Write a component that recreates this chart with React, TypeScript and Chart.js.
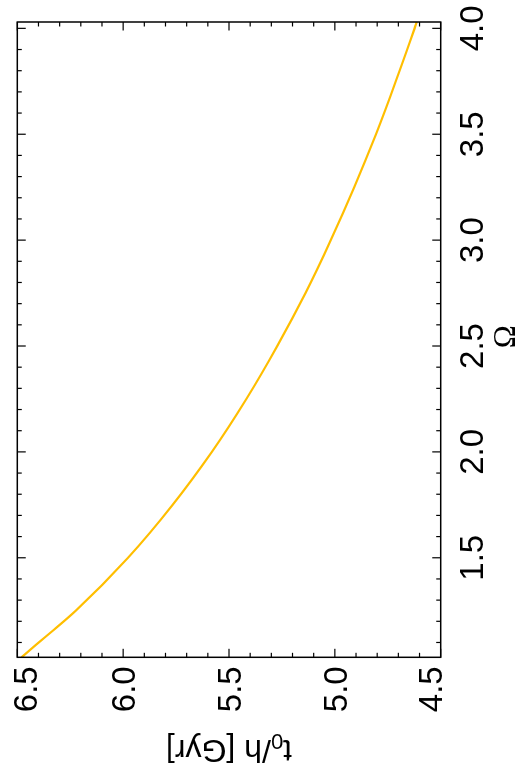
import React, { useEffect, useRef } from "react";
import { Chart, registerables } from "chart.js";

Chart.register(...registerables);

// Data (Omega vs. t0/h in Gyr)
const omega = [1.03, 1.1, 1.15, 1.25, 1.5, 1.75, 2.0, 2.25, 2.5, 2.75, 3.0, 3.25, 3.5, 3.75, 4.0, 4.03];
const ageGyr = [6.48, 6.399, 6.339, 6.224, 5.977, 5.766, 5.581, 5.418, 5.272, 5.139, 5.019, 4.908, 4.806, 4.712, 4.623, 4.613];

// Axis ranges and ticks
const omegaMin = 1.03;
const omegaMax = 4.03;
const ageMin = 4.5;
const ageMax = 6.5;
const omegaMajorTicks = [1.5, 2.0, 2.5, 3.0, 3.5, 4.0];
const omegaTickLabels = ["1.5", "2.0", "2.5", "3.0", "3.5", "4.0"];
const ageMajorTicks = [4.5, 5.0, 5.5, 6.0, 6.5];
const ageTickLabels = ["4.5", "5.0", "5.5", "6.0", "6.5"];
const minorStep = 0.1;

const xTitle = "Ω";
const yTitleMain = "t";
const yTitleSub = "0";
const yTitleRest = "/h [Gyr]";

const lineColor = "#ffbe00";

function minorValues(min: number, max: number): number[] {
  const out: number[] = [];
  const start = Math.ceil(min / minorStep - 1e-6);
  const end = Math.floor(max / minorStep + 1e-6);
  for (let k = start; k <= end; k++) out.push(Math.round(k * minorStep * 10) / 10);
  return out;
}

const isMajor = (v: number, majors: number[]) => majors.some((m) => Math.abs(m - v) < 1e-6);

const framePlugin = {
  id: "frameTicks",
  afterDraw(chart: any) {
    const { ctx, chartArea: a, scales } = chart;
    const xs = scales.x;
    const ys = scales.y;
    ctx.save();
    ctx.strokeStyle = "#000";
    ctx.lineWidth = 1.5;
    ctx.strokeRect(a.left, a.top, a.right - a.left, a.bottom - a.top);

    ctx.lineWidth = 1.2;
    const seg = (x1: number, y1: number, x2: number, y2: number) => {
      ctx.beginPath();
      ctx.moveTo(x1, y1);
      ctx.lineTo(x2, y2);
      ctx.stroke();
    };
    const majLen = 8.5;
    const minLen = 4.5;
    minorValues(omegaMin, omegaMax).forEach((v) => {
      const p = xs.getPixelForValue(v);
      const len = isMajor(v, omegaMajorTicks) ? majLen : minLen;
      seg(p, a.bottom, p, a.bottom - len);
      seg(p, a.top, p, a.top + len);
    });
    minorValues(ageMin, ageMax).forEach((v) => {
      const p = ys.getPixelForValue(v);
      const len = isMajor(v, ageMajorTicks) ? majLen : minLen;
      seg(a.left, p, a.left + len, p);
      seg(a.right, p, a.right - len, p);
    });

    // Tick labels
    ctx.fillStyle = "#000";
    ctx.font = '33px "Liberation Sans", Arial, sans-serif';
    ctx.textBaseline = "alphabetic";
    ctx.textAlign = "center";
    omegaMajorTicks.forEach((v, i) => {
      ctx.fillText(omegaTickLabels[i], xs.getPixelForValue(v), a.bottom + 41.8);
    });
    ctx.textAlign = "right";
    ageMajorTicks.forEach((v, i) => {
      const p = ys.getPixelForValue(v);
      const b = Math.min(Math.max(p + 11.8, a.top + 19.7), a.bottom + 1);
      ctx.fillText(ageTickLabels[i], a.left - 9, b);
    });

    // X title
    ctx.textAlign = "center";
    ctx.font = '31px "Liberation Serif", "Times New Roman", serif';
    ctx.fillText(xTitle, (a.left + a.right) / 2 + 3, a.bottom + 74.3);

    // Y title (rotated, with subscript)
    const mainFont = '32px "Liberation Sans", Arial, sans-serif';
    const subFont = '22px "Liberation Sans", Arial, sans-serif';
    ctx.font = mainFont;
    const wT = ctx.measureText(yTitleMain).width;
    const wR = ctx.measureText(yTitleRest).width;
    ctx.font = subFont;
    const wS = ctx.measureText(yTitleSub).width;
    const total = wT + wS + wR;
    ctx.translate(38, (a.top + a.bottom) / 2);
    ctx.rotate(-Math.PI / 2);
    ctx.textAlign = "left";
    let x = -total / 2;
    ctx.font = mainFont;
    ctx.fillText(yTitleMain, x, 0);
    x += wT;
    ctx.font = subFont;
    ctx.fillText(yTitleSub, x, 6);
    x += wS;
    ctx.font = mainFont;
    ctx.fillText(yTitleRest, x, 0);
    ctx.restore();
  },
};

export default function App() {
  const canvasRef = useRef<HTMLCanvasElement | null>(null);

  useEffect(() => {
    if (!canvasRef.current) return;
    const chart = new Chart(canvasRef.current, {
      type: "line",
      data: {
        datasets: [
          {
            data: omega.map((o, i) => ({ x: o, y: ageGyr[i] })),
            borderColor: lineColor,
            borderWidth: 2.2,
            pointRadius: 0,
            cubicInterpolationMode: "monotone",
            fill: false,
          },
        ],
      },
      options: {
        animation: false,
        responsive: false,
        devicePixelRatio: 1,
        layout: { padding: { left: 120.7, right: 22, top: 17.3, bottom: 77.3 } },
        plugins: { legend: { display: false }, tooltip: { enabled: false } },
        scales: {
          x: { type: "linear", min: omegaMin, max: omegaMax, display: false },
          y: { type: "linear", min: ageMin, max: ageMax, display: false },
        },
      },
      plugins: [framePlugin],
    } as any);
    return () => chart.destroy();
  }, []);

  return (
    <div
      style={{
        position: "absolute",
        left: 0,
        top: 0,
        width: 518,
        height: 778,
        overflow: "hidden",
        background: "#fff",
      }}
    >
      <div
        style={{
          position: "absolute",
          left: 0,
          top: 0,
          width: 778,
          height: 518,
          transformOrigin: "0 0",
          transform: "translate(0px, 778px) rotate(-90deg)",
        }}
      >
        <canvas ref={canvasRef} width={778} height={518} style={{ display: "block", width: 778, height: 518 }} />
      </div>
    </div>
  );
}
